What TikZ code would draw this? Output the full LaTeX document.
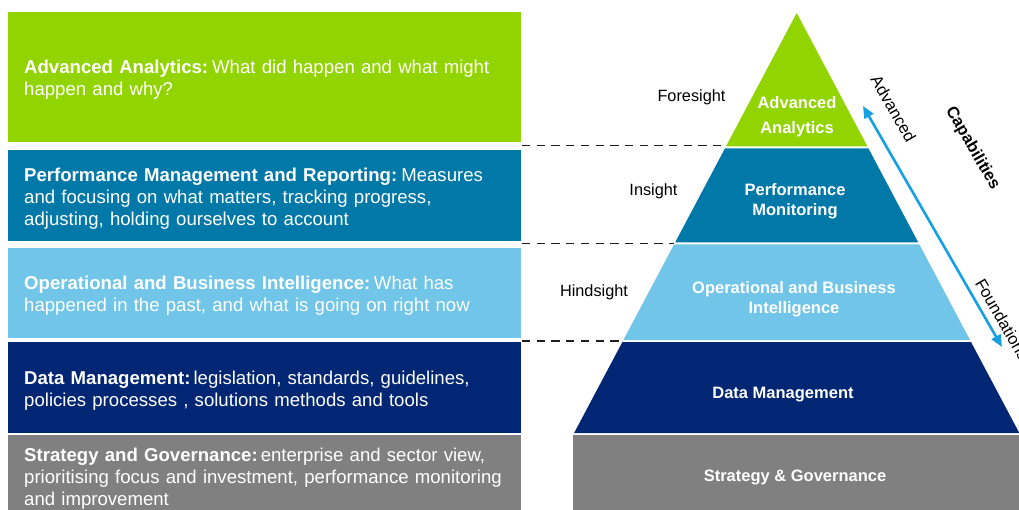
\documentclass[tikz,border=0pt]{standalone}
\usepackage{fontspec}
\setmainfont{Liberation Sans}
\usetikzlibrary{arrows.meta}

\definecolor{aagreen}{RGB}{146,212,0}
\definecolor{pmteal}{RGB}{0,120,168}
\definecolor{oblue}{RGB}{113,197,232}
\definecolor{dmnavy}{RGB}{0,38,116}
\definecolor{sggray}{RGB}{128,128,128}
\definecolor{capblue}{RGB}{22,160,224}
\definecolor{guidegray}{RGB}{30,30,30}

\begin{document}
\begin{tikzpicture}[x=1pt,y=-1pt,
  boxfill/.style={anchor=north west, inner sep=0pt, minimum width=513pt},
  boxtext/.style={anchor=west, inner sep=0pt, xshift=16pt, yshift=-2.5pt,
    text width=490pt, align=left, text=white,
    font=\fontsize{18.6}{22}\selectfont},
  tierlabel/.style={text=white, align=center, inner sep=0pt,
    font=\fontsize{16.5}{20}\selectfont\bfseries},
  sightlabel/.style={inner sep=0pt, font=\fontsize{16.3}{20}\selectfont},
  sidelabel/.style={inner sep=0pt, rotate=-60, font=\fontsize{16.5}{20}\selectfont},
  guide/.style={line width=1.6pt, guidegray, dash pattern=on 8.3pt off 6.4pt},
  caparrow/.style={capblue, line width=2.6pt,
    {Triangle[length=12pt,width=10pt]}-{Triangle[length=12pt,width=10pt]}},
]
\clip (0,0) rectangle (1019,510);

% ---- description boxes on the left ----
\node[boxfill, fill=aagreen, minimum height=130pt] (aaBox) at (8,12) {};
\node[boxfill, fill=pmteal, minimum height=91pt] (pmBox) at (8,150) {};
\node[boxfill, fill=oblue, minimum height=90pt] (obBox) at (8,248) {};
\node[boxfill, fill=dmnavy, minimum height=91pt] (dmBox) at (8,342) {};
\node[boxfill, fill=sggray, minimum height=82pt] (sgBox) at (8,435) {};

\node[boxtext] (aaText) at (aaBox.west)
  {\textbf{Advanced Analytics:}\hspace{4pt}What did happen and what might\\happen and why?};
\node[boxtext] (pmText) at (pmBox.west)
  {\textbf{Performance Management and Reporting:}\hspace{4pt}Measures\\and focusing on what matters, tracking progress,\\adjusting, holding ourselves to account};
\node[boxtext] (obText) at (obBox.west)
  {\textbf{Operational and Business Intelligence:}\hspace{3.5pt}What has\\happened in the past, and what is going on right now};
\node[boxtext] (dmText) at (dmBox.west)
  {\textbf{Data Management:}\hspace{3pt}legislation, standards, guidelines,\\policies processes , solutions methods and tools};
\node[boxtext] (sgText) at (sgBox.west)
  {\textbf{Strategy and Governance:}\hspace{3pt}enterprise and sector view,\\prioritising focus and investment, performance monitoring\\and improvement};

% ---- pyramid ----
\fill[aagreen] (796.7,13) -- (867.5,146.5) -- (725.9,146.5) -- cycle;
\fill[pmteal] (724.9,148.5) -- (868.5,148.5) -- (918.3,242.5) -- (675.1,242.5) -- cycle;
\fill[oblue] (674.0,244.5) -- (919.4,244.5) -- (970.0,340) -- (623.4,340) -- cycle;
\fill[dmnavy] (622.4,342) -- (971.0,342) -- (1019.3,433) -- (574.1,433) -- cycle;
\fill[sggray] (573,434.5) rectangle (1020,512);

\node[tierlabel, font=\fontsize{16.5}{25}\selectfont\bfseries] (aaTier) at (797,117) {Advanced\\Analytics};
\node[tierlabel] (pmTier) at (795,201.5) {Performance\\Monitoring};
\node[tierlabel] (obTier) at (794,299) {Operational and Business\\Intelligence};
\node[tierlabel] (dmTier) at (783,394.5) {Data Management};
\node[tierlabel] (sgTier) at (795,477.5) {Strategy \& Governance};

% ---- sight labels ----
\node[sightlabel] (foresight) at (691.5,97.5) {Foresight};
\node[sightlabel] (insight) at (653.5,191.5) {Insight};
\node[sightlabel] (hindsight) at (594,292.5) {Hindsight};

% ---- dashed guides from the boxes to the pyramid ----
\coordinate (g1a) at (522,145.5);  \coordinate (g1b) at (723,145.5);
\coordinate (g2a) at (522,243.5);  \coordinate (g2b) at (674,243.5);
\coordinate (g3a) at (522,341);    \coordinate (g3b) at (623,341);
\draw[guide] (g1a) -- (g1b);
\draw[guide] (g2a) -- (g2b);
\draw[guide] (g3a) -- (g3b);

% ---- capabilities arrow ----
\coordinate (capTop) at (863,106);
\coordinate (capBot) at (1002,347);
\draw[caparrow] (capTop) -- (capBot);
\node[sidelabel] (advLabel) at (893.5,108.5) {Advanced};
\node[sidelabel, anchor=west] (fndLabel) at (979.5,280) {Foundations};
\node[sidelabel, font=\fontsize{16.5}{20}\selectfont\bfseries] (capLabel) at (972.5,148.5) {Capabilities};
\end{tikzpicture}
\end{document}
